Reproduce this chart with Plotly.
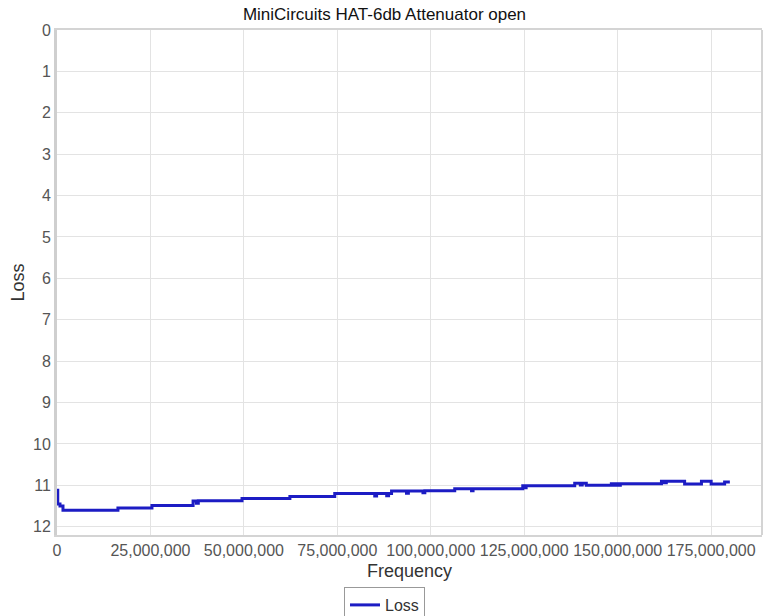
import plotly.graph_objects as go

# Frequency (Hz) and Loss (dB)
freq_mhz = [0.0, 0.2, 0.8, 1.6, 16.3, 25.4, 36.4, 37.3, 37.8, 49.5, 62.3, 74.3,
            85.0, 85.5, 88.2, 88.7, 89.5, 93.5, 94.0, 97.9, 98.4, 106.4,
            110.9, 111.3, 124.6, 125.0, 125.5, 138.5, 140.0, 140.5, 141.6,
            148.3, 148.8, 149.6, 150.2, 150.7, 161.7, 162.5, 163.0, 167.9,
            172.4, 175.0, 178.6, 180.0]
loss = [11.12, 11.45, 11.5, 11.6, 11.55, 11.49, 11.38, 11.43, 11.37, 11.32, 11.27, 11.2,
        11.26, 11.2, 11.25, 11.2, 11.14, 11.19, 11.14, 11.18, 11.13, 11.08,
        11.13, 11.08, 11.01, 11.06, 11.01, 10.95, 10.99, 10.95, 11.0,
        10.96, 11.0, 10.96, 11.0, 10.96, 10.9, 10.94, 10.9, 10.97,
        10.9, 10.97, 10.92, 10.92]
freq = [f * 1e6 for f in freq_mhz]

x_ticks = [0, 25e6, 50e6, 75e6, 100e6, 125e6, 150e6, 175e6]
x_tick_labels = ["0", "25,000,000", "50,000,000", "75,000,000", "100,000,000",
                 "125,000,000", "150,000,000", "175,000,000"]
y_ticks = list(range(0, 13))

font_family = "Liberation Sans, Arial, sans-serif"

fig = go.Figure()
fig.add_trace(go.Scatter(
    x=freq, y=loss, mode="lines", name="Loss",
    line=dict(color="#1c1cc4", width=3, shape="hv"),
))

fig.update_layout(
    width=769, height=616,
    margin=dict(l=57, r=7, t=30, b=81, autoexpand=False),
    paper_bgcolor="white", plot_bgcolor="white",
    font=dict(family=font_family, size=16, color="#555555"),
    title=dict(text="MiniCircuits HAT-6db Attenuator open", x=0.5, xanchor="center",
               xref="container", yref="container",
               y=1 - 14 / 616, yanchor="middle",
               font=dict(family=font_family, size=17, color="#111111")),
    showlegend=True,
    legend=dict(orientation="h", xref="container", yref="container",
                x=0.5, xanchor="center", y=(616 - 587) / 616, yanchor="top",
                bordercolor="#999999", borderwidth=1, itemwidth=30,
                font=dict(family=font_family, size=16, color="#333333")),
)

fig.update_xaxes(
    range=[0, 188.6e6], tickmode="array", tickvals=x_ticks, ticktext=x_tick_labels,
    showgrid=True, gridcolor="#e3e3e3", gridwidth=1, zeroline=False,
    showline=True, linecolor="#d4d4d4", linewidth=2, mirror=True,
    ticks="", tickfont=dict(size=16, color="#555555"), automargin=False,
    title=dict(text="Frequency", font=dict(size=18, color="#333333"), standoff=6),
)
fig.update_yaxes(
    range=[12.2, 0], tickmode="array", tickvals=y_ticks,
    showgrid=True, gridcolor="#e3e3e3", gridwidth=1, zeroline=False,
    showline=True, linecolor="#cfcfcf", linewidth=3,
    ticks="", tickfont=dict(size=16, color="#555555"), automargin=False,
    title=dict(text="Loss", font=dict(size=18, color="#333333"), standoff=4),
)

fig.add_shape(type="line", xref="paper", yref="paper", x0=1, x1=1, y0=0, y1=1,
              line=dict(color="#d4d4d4", width=2))

fig.write_html("out.html", config={"displayModeBar": False},
               post_script="document.body.style.margin='0';document.body.style.padding='0';")
